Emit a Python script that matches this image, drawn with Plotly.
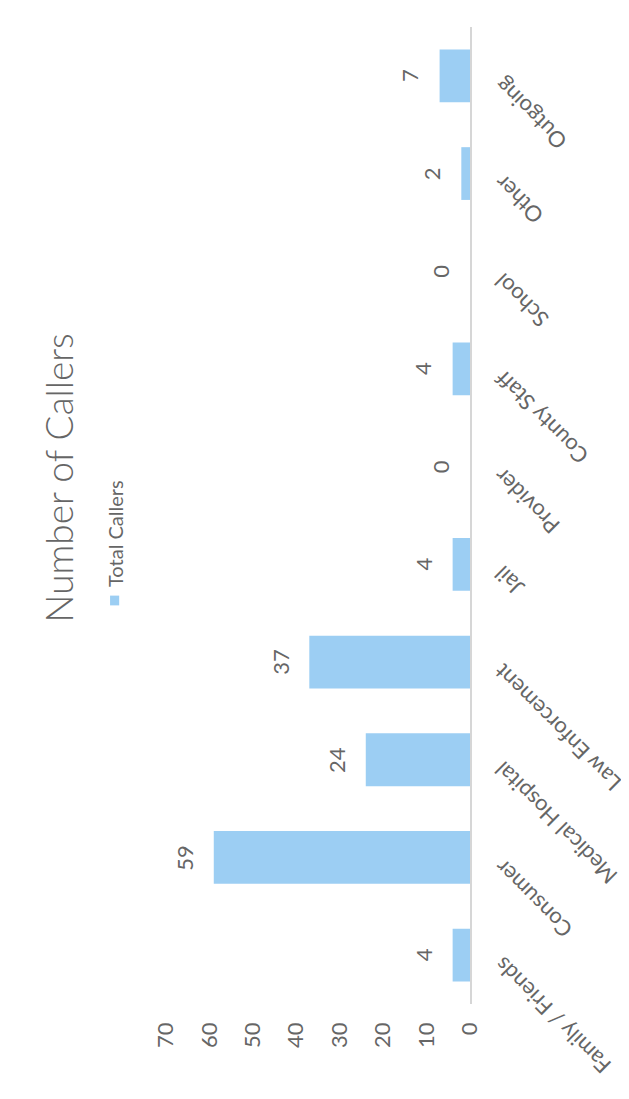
import plotly.graph_objects as go

categories = ["Family / Friends", "Consumer", "Medical Hospital", "Law Enforcement",
              "Jail", "Provider", "County Staff", "School", "Other", "Outgoing"]
total_callers = [4, 59, 24, 37, 4, 0, 4, 0, 2, 7]
value_ticks = [0, 10, 20, 30, 40, 50, 60, 70]

BAR = "#9ccef3"
GRAY = "#666666"
FONT = "Lato"

fig = go.Figure()
fig.add_trace(go.Bar(
    x=total_callers, y=categories, orientation="h",
    marker=dict(color=BAR, line=dict(width=0)),
    width=0.54, showlegend=False, name="Total Callers",
))

ann = []
# data labels
for c, v in zip(categories, total_callers):
    ann.append(dict(x=v, y=c, xref="x", yref="y", text=str(v), showarrow=False,
                    textangle=-90, xanchor="right", yanchor="middle", xshift=-14,
                    font=dict(family=FONT, size=22, color=GRAY)))
# category labels
for c in categories:
    ann.append(dict(x=1, y=c, xref="paper", yref="y", text=c, showarrow=False,
                    textangle=-135, xanchor="left", yanchor="top", xshift=16, yshift=6,
                    font=dict(family=FONT, size=22, color=GRAY)))
# title
ann.append(dict(x=-0.355, y=0.538, xref="paper", yref="paper", text="Number of Callers",
                showarrow=False, textangle=-90, xanchor="center", yanchor="middle",
                font=dict(family=FONT, size=37, color="#666666", weight=300)))
# legend text
ann.append(dict(x=-0.168, y=0.482, xref="paper", yref="paper", text="Total Callers",
                showarrow=False, textangle=-90, xanchor="center", yanchor="middle",
                font=dict(family=FONT, size=20, color=GRAY)))

fig.update_layout(
    width=629, height=1099,
    margin=dict(l=158, r=167, t=19, b=103),
    paper_bgcolor="white", plot_bgcolor="white",
    annotations=ann,
    shapes=[dict(type="rect", xref="paper", yref="paper",
                 x0=-0.184, x1=-0.154, y0=0.408, y1=0.418,
                 fillcolor=BAR, line=dict(width=0))],
    xaxis=dict(range=[70, 0], tickvals=value_ticks, tickangle=-90, showgrid=False,
               zeroline=False, showline=False, ticks="", ticklabelstandoff=13,
               tickfont=dict(family=FONT, size=22, color=GRAY)),
    yaxis=dict(side="right", range=[-0.5, 9.5], showticklabels=False, showgrid=False,
               zeroline=False, showline=True, linecolor="#d6d6d6", linewidth=1.5,
               ticks=""),
    bargap=0.46,
)

fig.write_html("out.html")
